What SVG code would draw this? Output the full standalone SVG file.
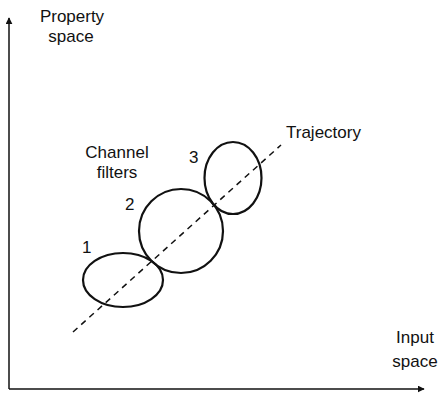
<svg xmlns="http://www.w3.org/2000/svg" width="443" height="394" viewBox="0 0 443 394">
<style>
text{font-family:"Liberation Sans",Arial,sans-serif;font-size:17px;fill:#111}
.ax{stroke:#111;stroke-width:1.5;fill:none}
.flt{stroke:#111;stroke-width:2.2;fill:none}
.traj{stroke:#111;stroke-width:1.5;stroke-dasharray:6 5;fill:none}
</style>
<defs>
<marker id="ah" viewBox="0 0 10 10" refX="9" refY="5" markerWidth="7" markerHeight="7" markerUnits="userSpaceOnUse" orient="auto">
<path d="M0,0 L10,5 L0,10 Z" fill="#111"/>
</marker>
</defs>
<g id="connectors">
<line class="ax" x1="9" y1="389" x2="9" y2="18" marker-end="url(#ah)"/>
<line class="ax" x1="9" y1="389" x2="424" y2="389" marker-end="url(#ah)"/>
<line id="trajectory-line" class="traj" x1="73" y1="332" x2="281" y2="145"/>
</g>
<g id="y-axis-label">
<text x="72" y="22" text-anchor="middle">Property</text>
<text x="71" y="42" text-anchor="middle">space</text>
</g>
<g id="x-axis-label">
<text x="415" y="343" text-anchor="middle">Input</text>
<text x="415" y="367" text-anchor="middle">space</text>
</g>
<g id="trajectory-label">
<text x="286" y="138">Trajectory</text>
</g>
<g id="channel-label">
<text x="117" y="158" text-anchor="middle">Channel</text>
<text x="117" y="178" text-anchor="middle">filters</text>
</g>
<g id="filter1">
<ellipse class="flt" cx="123" cy="280" rx="40" ry="27"/>
<text x="82" y="253">1</text>
</g>
<g id="filter2">
<ellipse class="flt" cx="181" cy="231" rx="42" ry="42"/>
<text x="125" y="210">2</text>
</g>
<g id="filter3">
<ellipse class="flt" cx="233" cy="178" rx="28.5" ry="36"/>
<text x="189" y="163">3</text>
</g>
</svg>
